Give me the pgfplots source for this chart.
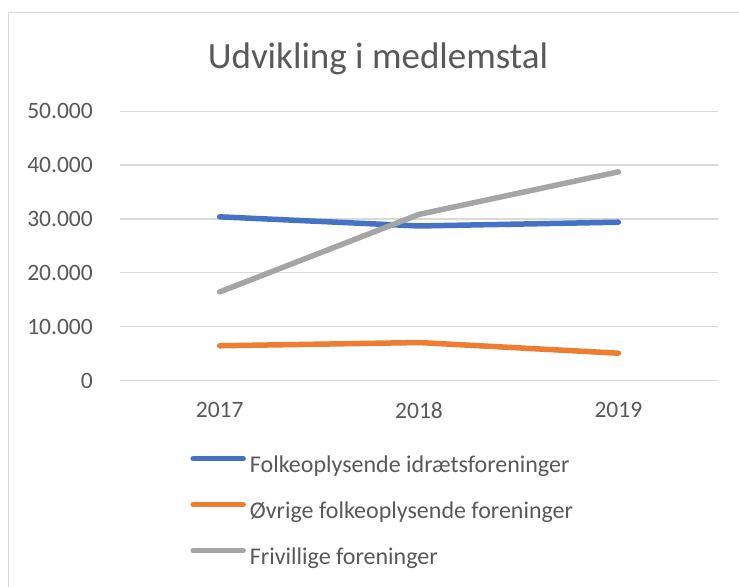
\documentclass[border=0pt]{standalone}
\usepackage{pgfplots}
\pgfplotsset{compat=1.18}
\usepackage{fontspec}
\setmainfont{Carlito}
\definecolor{cblue}{HTML}{4472C4}
\definecolor{corange}{HTML}{ED7D31}
\definecolor{cgray}{HTML}{A5A5A5}
\definecolor{textgray}{HTML}{595959}
\definecolor{gridgray}{HTML}{D9D9D9}
\begin{document}
\begin{tikzpicture}
\useasboundingbox (0,0) rectangle (739bp,587bp);
\fill[white] (0,0) rectangle (739bp,587bp);
\draw[color=gridgray, line width=1.5bp] (8.5bp,0) -- (8.5bp,574.5bp) -- (739bp,574.5bp);
\node[anchor=base, text=textgray, font=\fontsize{37bp}{44bp}\selectfont, inner sep=0pt] at (378bp,518bp) {Udvikling i medlemstal};
\begin{axis}[
  at={(120bp,206.5bp)}, anchor=south west,
  scale only axis, width=598bp, height=269.2bp,
  xmin=2016.5, xmax=2019.5, ymin=0, ymax=50000,
  xtick={2017,2018,2019}, xticklabels={2017,2018,2019},
  ytick={0,10000,20000,30000,40000,50000},
  scaled y ticks=false,
  /pgf/number format/assume math mode=true,
  /pgf/number format/1000 sep={.},
  axis line style={draw=none},
  major tick style={draw=none},
  ymajorgrids,
  major grid style={color=gridgray, line width=1.3bp},
  tick label style={font=\fontsize{23.5bp}{28bp}\selectfont, text=textgray, inner sep=0pt},
  yticklabel style={anchor=east, xshift=-27bp},
  xticklabel style={anchor=north, yshift=-22bp},
  legend cell align=left,
  legend image code/.code={\draw[#1, line width=5.5bp, line cap=round] (0bp,8bp) -- (50bp,8bp);},
  legend style={at={(axis description cs:0.1175,-0.2768)}, anchor=north west, draw=none, fill=none, inner sep=0pt,
    font=\fontsize{24bp}{29bp}\selectfont, text=textgray,
    nodes={inner sep=0pt, text height=17bp, text depth=6bp},
    column sep=4bp, row sep=23bp},
  clip=false,
]
\addplot[cblue, line width=5.5bp, line cap=round, line join=round] coordinates {(2017,30400) (2018,28700) (2019,29400)};
\addlegendentry{Folkeoplysende idrætsforeninger}
\addplot[corange, line width=5.5bp, line cap=round, line join=round] coordinates {(2017,6450) (2018,7050) (2019,5070)};
\addlegendentry{Øvrige folkeoplysende foreninger}
\addplot[cgray, line width=5.5bp, line cap=round, line join=round] coordinates {(2017,16450) (2018,30850) (2019,38750)};
\addlegendentry{Frivillige foreninger}
\end{axis}
\end{tikzpicture}
\end{document}
